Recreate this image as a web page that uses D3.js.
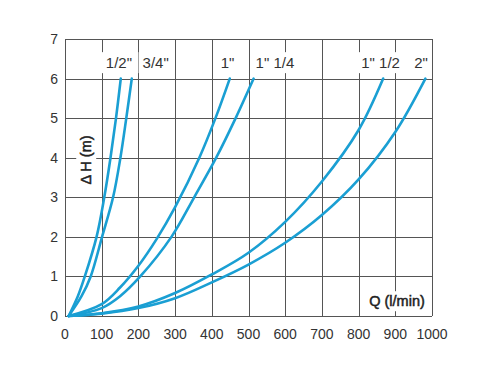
<!DOCTYPE html>
<html>
<head>
<meta charset="utf-8">
<script src="https://cdn.jsdelivr.net/npm/d3@7"></script>
<style>
  body { margin: 0; background: #fff; }
  text { font-family: "Liberation Sans", Arial, sans-serif; fill: #333; }
</style>
</head>
<body>
<div id="chart"></div>
<script>
// pipe sizes (curve labels)
const pipeSizes = ["1/2\"", "3/4\"", "1\"", "1\" 1/4", "1\" 1/2", "2\""];

// flow Q (l/min) vs head loss ΔH (m)
const curve12 = [[10,0],[35,0.5],[54,1],[86,2],[107,3],[124,4],[139,5],[152,6]];
const curve34 = [[10,0],[45,0.5],[70,1],[101,2],[131,3],[151,4],[167,5],[182,6]];
const curve1 = [[10,0],[100,0.3],[150,0.72],[200,1.27],[250,1.95],[300,2.75],[366,4],[410,5],[449,6]];
const curve114 = [[10,0],[100,0.2],[150,0.5],[205,1],[290,2],[352,3],[412,4],[465,5],[514,6]];
const curve112 = [[10,0],[100,0.07],[200,0.24],[300,0.58],[400,1.05],[500,1.6],[600,2.38],[700,3.4],[800,4.7],[867,6]];
const curve2 = [[10,0],[100,0.06],[200,0.2],[300,0.45],[400,0.85],[500,1.3],[600,1.85],[700,2.55],[800,3.45],[900,4.65],[982,6]];
const curves = [curve12, curve34, curve1, curve114, curve112, curve2];

// tick labels
const xTicks = [0, 100, 200, 300, 400, 500, 600, 700, 800, 900, 1000];
const yTicks = [0, 1, 2, 3, 4, 5, 6, 7];

const W = 500, H = 375;
const margin = { top: 39, right: 68, bottom: 59, left: 65 };

const svg = d3.select("#chart").append("svg")
    .attr("width", W).attr("height", H);

const x = d3.scaleLinear().domain([0, 1000]).range([margin.left, W - margin.right]);
const y = d3.scaleLinear().domain([0, 7]).range([H - margin.bottom, margin.top]);

// grid
const grid = svg.append("g").attr("stroke", "#555").attr("stroke-width", 1);
grid.selectAll(".vx").data(xTicks).enter().append("line")
    .attr("x1", d => Math.round(x(d)) + 0.5).attr("x2", d => Math.round(x(d)) + 0.5)
    .attr("y1", y(7)).attr("y2", y(0));
grid.selectAll(".hy").data(yTicks).enter().append("line")
    .attr("y1", d => Math.round(y(d)) + 0.5).attr("y2", d => Math.round(y(d)) + 0.5)
    .attr("x1", x(0)).attr("x2", x(1000));

// tick labels
svg.append("g").selectAll("text").data(xTicks).enter().append("text")
    .attr("x", d => x(d)).attr("y", y(0) + 23)
    .attr("text-anchor", "middle")
    .style("font-size", "14px")
    .text(d => d);
svg.append("g").selectAll("text").data(yTicks).enter().append("text")
    .attr("x", x(0) - 7).attr("y", d => y(d) + 5)
    .attr("text-anchor", "end")
    .style("font-size", "14px")
    .text(d => d);

// curves
const line = d3.line()
    .x(d => x(d[0]))
    .y(d => y(d[1]))
    .curve(d3.curveCatmullRom.alpha(0.5));

svg.append("g").selectAll("path").data(curves).enter().append("path")
    .attr("d", line)
    .attr("fill", "none")
    .attr("stroke", "#1a9fd3")
    .attr("stroke-width", 2.6)
    .attr("stroke-linecap", "round");

// text with white box behind
function boxedText(g, tx, ty, str, size, heavy, rotate) {
    const grp = g.append("g").attr("transform", `translate(${tx},${ty})` + (rotate ? " rotate(-90)" : ""));
    const rect = grp.append("rect").attr("fill", "#fff");
    const t = grp.append("text")
        .attr("text-anchor", "middle")
        .attr("dy", "0.36em")
        .style("font-size", size + "px")
        .text(str);
    if (heavy) t.style("stroke", "#222").style("stroke-width", 0.5).style("fill", "#222");
    const b = t.node().getBBox();
    rect.attr("x", b.x - 4).attr("y", b.y - 2)
        .attr("width", b.width + 8).attr("height", b.height + 4);
}

// curve labels, placed along the top row (Q values)
const labelQ = [147, 247, 443, 572, 860, 970];
const labels = svg.append("g");
pipeSizes.forEach((s, i) => boxedText(labels, x(labelQ[i]), y(6.4), s, 15, false, false));

// axis titles
boxedText(svg, 397, 301, "Q (l/min)", 14.5, true, false);
boxedText(svg, 86, 160, "\u0394 H (m)", 14.5, true, true);
</script>
</body>
</html>
